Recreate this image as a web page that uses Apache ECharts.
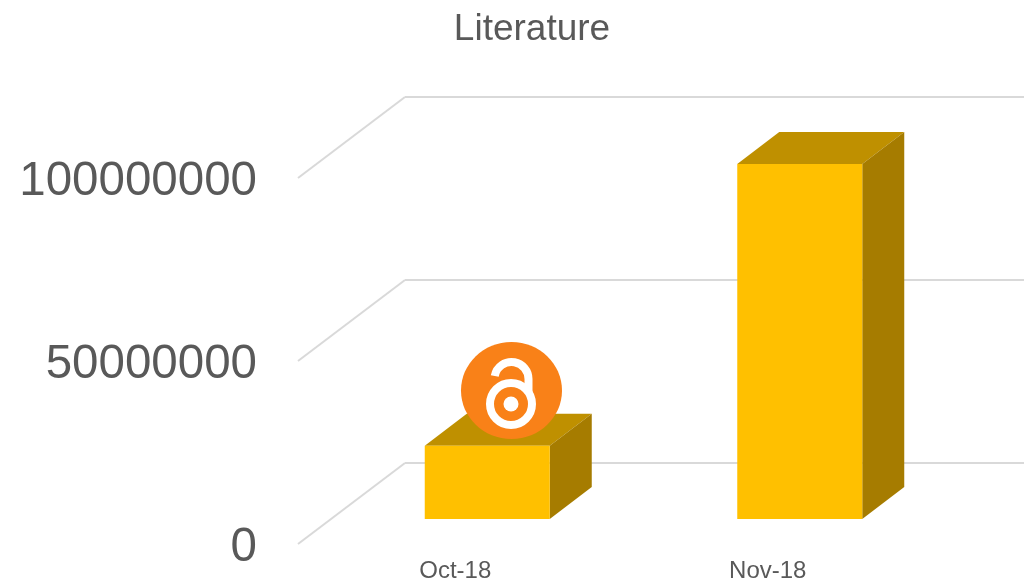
<!DOCTYPE html>
<html>
<head>
<meta charset="utf-8">
<style>html,body{margin:0;padding:0;background:#fff}#c{width:1024px;height:585px}</style>
<script src="https://cdn.jsdelivr.net/npm/echarts@6/dist/echarts.min.js"></script>
</head>
<body>
<div id="c"></div>
<script>
const chartTitle = 'Literature';
const categories = ['Oct-18', 'Nov-18'];
const literature = [20000000, 97000000];
const wallTicks = [0, 50000000, 100000000];
const axisMax = 100000000;
const tickStep = 50000000;

const FONT = '"Liberation Sans", Arial, sans-serif';
const TEXT = '#595959';
const GRID = '#D9D9D9';
const DEPTH_X = 42, DEPTH_Y = -32;
const WALL_X = -107, WALL_Y = 81;

const chart = echarts.init(document.getElementById('c'), null, {renderer: 'canvas'});

function renderWall(params, api) {
  const p = api.coord([0, api.value(0)]);
  return {
    type: 'line',
    shape: {x1: p[0], y1: p[1], x2: p[0] + WALL_X, y2: p[1] + WALL_Y},
    style: {stroke: GRID, lineWidth: 2, fill: null}
  };
}

function renderBar(params, api) {
  const cat = api.value(0);
  const top = api.coord([cat, api.value(1)]);
  const base = api.coord([cat, 0]);
  const w = api.size([1, 0])[0] * 0.4;
  const x0 = top[0] - w / 2, x1 = top[0] + w / 2;
  const yt = top[1], yb = base[1];
  const dx = DEPTH_X, dy = DEPTH_Y;
  return {
    type: 'group',
    children: [
      {type: 'polygon', shape: {points: [[x0, yt], [x0 + dx, yt + dy], [x1 + dx, yt + dy], [x1, yt]]},
       style: {fill: '#BF9000'}},
      {type: 'polygon', shape: {points: [[x1, yt], [x1 + dx, yt + dy], [x1 + dx, yb + dy], [x1, yb]]},
       style: {fill: '#A67C00'}},
      {type: 'rect', shape: {x: x0, y: yt, width: w, height: yb - yt},
       style: {fill: '#FFC000'}}
    ]
  };
}

chart.setOption({
  animation: false,
  backgroundColor: '#ffffff',
  title: {
    text: chartTitle, left: 527, top: 25, textAlign: 'center', textVerticalAlign: 'middle',
    textStyle: {fontFamily: FONT, fontSize: 37, fontWeight: 'normal', color: TEXT}
  },
  grid: [
    {left: 299, top: 182, width: 625, height: 366, outerBoundsMode: 'none'},
    {left: 405, top: 97, width: 619, height: 366, outerBoundsMode: 'none'},
    {left: 331, top: 153, width: 625, height: 366, outerBoundsMode: 'none'}
  ],
  xAxis: [
    {gridIndex: 0, type: 'category', data: categories,
     axisLine: {show: false}, axisTick: {show: false}, splitLine: {show: false},
     axisLabel: {show: true, interval: 0, margin: 11, fontFamily: FONT, fontSize: 24, color: TEXT}},
    {gridIndex: 1, type: 'value', min: 0, max: 1, show: false},
    {gridIndex: 2, type: 'category', data: categories, show: false}
  ],
  yAxis: [
    {gridIndex: 0, type: 'value', min: 0, max: axisMax, interval: tickStep,
     axisLine: {show: false}, axisTick: {show: false}, splitLine: {show: false},
     axisLabel: {show: true, margin: 42, fontFamily: FONT, fontSize: 47.5, color: TEXT,
                 formatter: v => String(v)}},
    {gridIndex: 1, type: 'value', min: 0, max: axisMax, interval: tickStep,
     axisLine: {show: false}, axisTick: {show: false}, axisLabel: {show: false},
     splitLine: {show: true, lineStyle: {color: GRID, width: 2}}},
    {gridIndex: 2, type: 'value', min: 0, max: axisMax, show: false}
  ],
  series: [
    {type: 'custom', name: 'wall', xAxisIndex: 1, yAxisIndex: 1, clip: false, silent: true, z: 1,
     encode: {y: 0}, data: wallTicks.map(v => [v]), renderItem: renderWall},
    {type: 'custom', name: chartTitle, xAxisIndex: 2, yAxisIndex: 2, clip: false, z: 5,
     encode: {x: 0, y: 1}, data: literature.map((v, i) => [i, v]), renderItem: renderBar}
  ],
  graphic: {
    elements: [
      {type: 'ellipse', silent: true, z: 100, zlevel: 1, shape: {cx: 511.5, cy: 390.5, rx: 50.5, ry: 48.5}, style: {fill: '#F98118'}},
      {type: 'circle', silent: true, z: 101, zlevel: 1, shape: {cx: 511, cy: 404, r: 21}, style: {fill: 'none', stroke: '#fff', lineWidth: 8}},
      {type: 'circle', silent: true, z: 101, zlevel: 1, shape: {cx: 511, cy: 404, r: 7.5}, style: {fill: '#fff'}},
      {type: 'arc', silent: true, z: 101, zlevel: 1, shape: {cx: 511.5, cy: 379, r: 17, startAngle: Math.PI + 0.18, endAngle: 2 * Math.PI, clockwise: true},
       style: {fill: 'none', stroke: '#fff', lineWidth: 8}},
      {type: 'line', silent: true, z: 101, zlevel: 1, shape: {x1: 528.5, y1: 379, x2: 528.5, y2: 393}, style: {stroke: '#fff', lineWidth: 8}}
    ]
  }
});
</script>
</body>
</html>
